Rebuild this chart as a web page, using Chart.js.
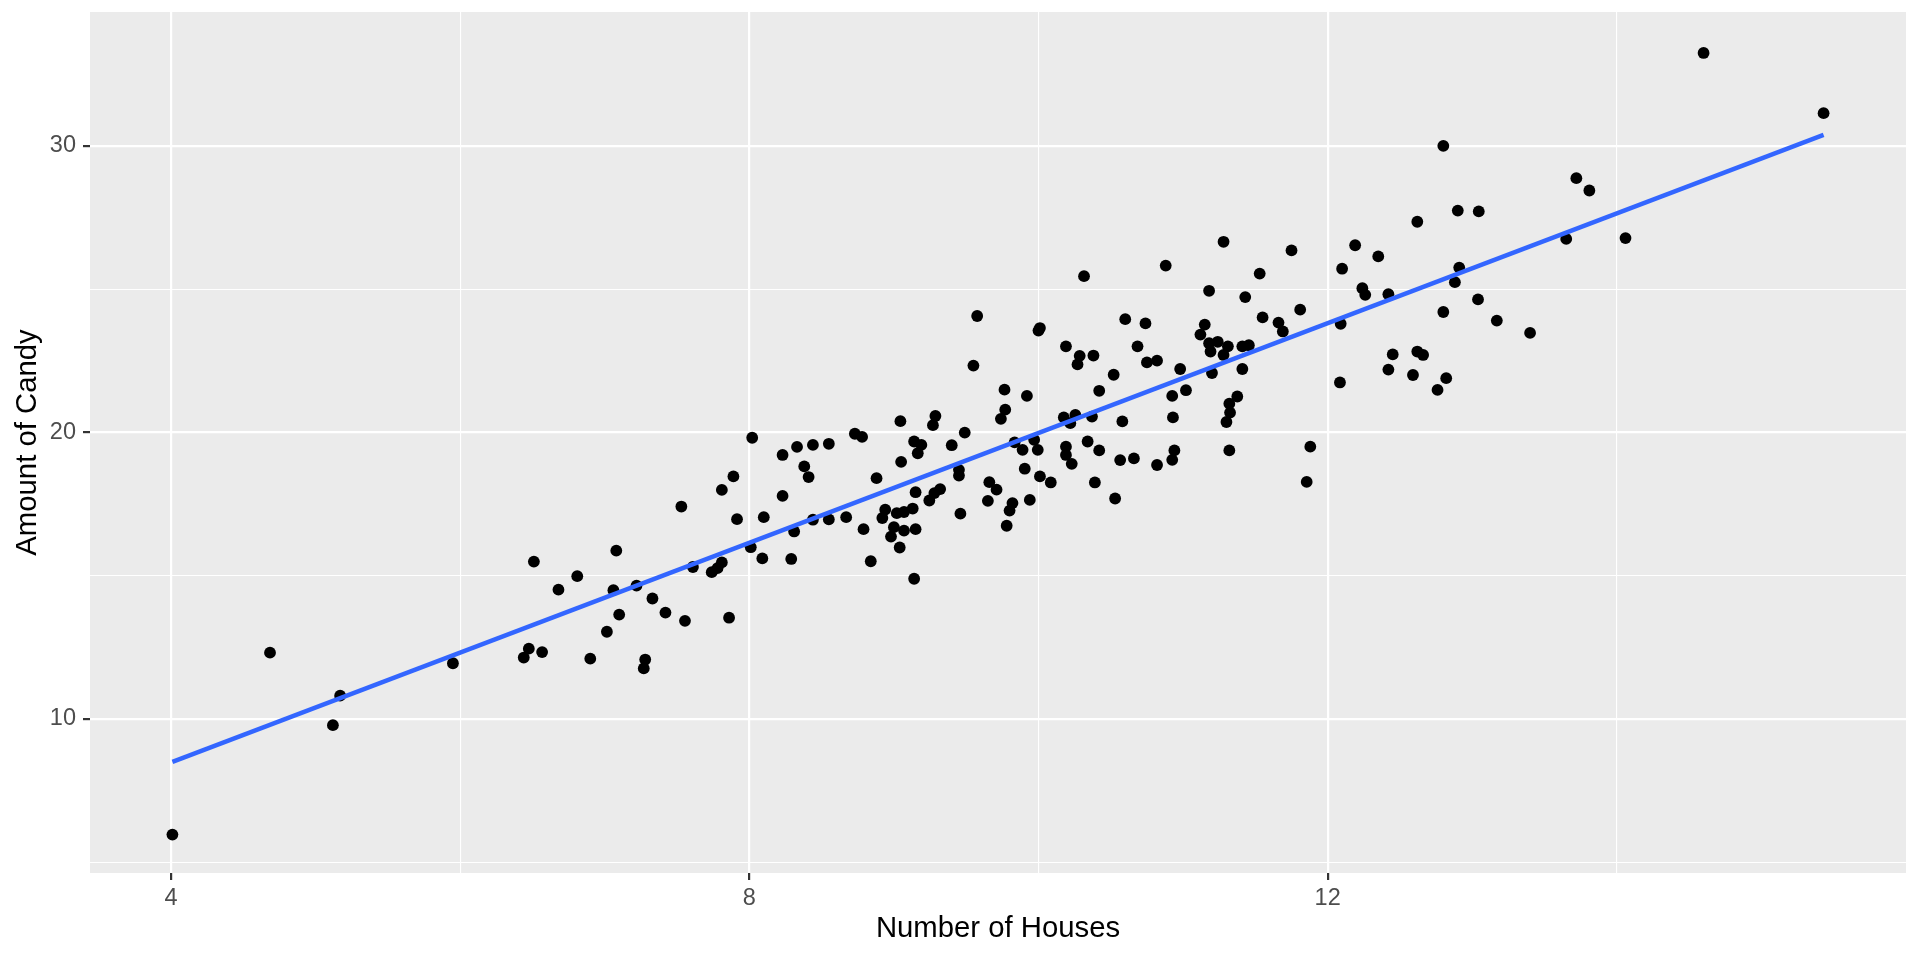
<!DOCTYPE html>
<html>
<head>
<meta charset="utf-8">
<style>
  html, body { margin: 0; padding: 0; background: #ffffff; }
  #wrap { width: 1920px; height: 960px; }
</style>
<script src="https://cdn.jsdelivr.net/npm/chart.js@4.4.1/dist/chart.umd.min.js"></script>
</head>
<body>
<div id="wrap"><canvas id="chart" width="1920" height="960"></canvas></div>
<script>
// Number of Houses (x) / Amount of Candy (y)
const houses = [
  4.01, 4.685, 5.12, 5.17, 5.95, 6.44, 6.475, 6.51, 6.567, 6.68,
  6.81, 6.90, 7.015, 7.06, 7.08, 7.10, 7.22, 7.27, 7.28, 7.33,
  7.42, 7.53, 7.555, 7.61, 7.74, 7.78, 7.81, 7.81, 7.86, 7.89,
  7.915, 8.01, 8.02, 8.09, 8.10, 8.23, 8.23, 8.29, 8.31, 8.33,
  8.38, 8.41, 8.44, 8.44, 8.55, 8.55, 8.67, 8.73, 8.78, 8.79,
  8.84, 8.88, 8.92, 8.94, 8.98, 9.00, 9.02, 9.04, 9.045, 9.05,
  9.07, 9.07, 9.13, 9.14, 9.14, 9.15, 9.15, 9.165, 9.19, 9.245,
  9.27, 9.28, 9.287, 9.32, 9.40, 9.45, 9.45, 9.46, 9.49, 9.55,
  9.576, 9.65, 9.66, 9.71, 9.74, 9.765, 9.77, 9.78, 9.80, 9.82,
  9.835, 9.89, 9.905, 9.92, 9.94, 9.97, 9.995, 10.00, 10.01, 10.01,
  10.085, 10.175, 10.19, 10.19, 10.19, 10.22, 10.23, 10.255, 10.27, 10.285,
  10.315, 10.34, 10.37, 10.38, 10.39, 10.42, 10.42, 10.52, 10.53, 10.565,
  10.58, 10.60, 10.66, 10.685, 10.74, 10.75, 10.82, 10.82, 10.88, 10.925,
  10.925, 10.93, 10.94, 10.98, 11.02, 11.12, 11.15, 11.18, 11.18, 11.19,
  11.20, 11.24, 11.28, 11.28, 11.30, 11.31, 11.32, 11.32, 11.325, 11.375,
  11.41, 11.41, 11.43, 11.455, 11.53, 11.55, 11.66, 11.69, 11.75, 11.81,
  11.855, 11.88, 12.085, 12.09, 12.10, 12.19, 12.24, 12.26, 12.35, 12.42,
  12.42, 12.45, 12.59, 12.62, 12.62, 12.66, 12.76, 12.80, 12.80, 12.82,
  12.88, 12.90, 12.91, 13.04, 13.045, 13.17, 13.40, 13.65, 13.72, 13.81,
  14.06, 14.60, 15.43
];
const candy = [
  5.96, 12.31, 9.78, 10.81, 11.94, 12.14, 12.45, 15.49, 12.33, 14.51,
  14.98, 12.10, 13.04, 14.49, 15.87, 13.64, 14.65, 11.76, 12.07, 14.20,
  13.71, 17.41, 13.42, 15.30, 15.12, 15.26, 15.46, 17.99, 13.53, 18.46,
  16.97, 15.99, 19.81, 15.60, 17.04, 17.78, 19.21, 15.58, 16.54, 19.49,
  18.81, 18.44, 16.95, 19.56, 16.96, 19.60, 17.04, 19.95, 19.84, 16.62,
  15.50, 18.40, 17.01, 17.30, 16.36, 16.69, 17.18, 15.98, 20.39, 18.97,
  16.57, 17.22, 17.34, 14.89, 19.68, 16.62, 17.91, 19.27, 19.56, 17.62,
  20.25, 17.88, 20.57, 18.02, 19.55, 18.49, 18.69, 17.16, 19.99, 22.33,
  24.06, 17.61, 18.26, 18.00, 20.47, 21.49, 20.79, 16.74, 17.27, 17.53,
  19.65, 19.39, 18.73, 21.27, 17.64, 19.74, 19.39, 23.55, 18.46, 23.64,
  18.25, 20.52, 19.21, 19.50, 23.00, 20.32, 18.90, 20.61, 22.37, 22.67,
  25.45, 19.68, 20.55, 22.68, 18.25, 19.37, 21.45, 22.01, 17.69, 19.03,
  20.38, 23.95, 19.09, 23.00, 23.80, 22.44, 18.86, 22.50, 25.82, 19.04,
  21.27, 20.52, 19.37, 22.21, 21.47, 23.41, 23.76, 23.11, 24.94, 22.82,
  22.07, 23.16, 22.70, 26.65, 20.36, 23.00, 19.37, 21.00, 20.69, 21.25,
  22.21, 23.00, 24.72, 23.04, 25.54, 24.01, 23.83, 23.52, 26.35, 24.28,
  18.27, 19.50, 21.74, 23.79, 25.71, 26.53, 25.03, 24.80, 26.14, 22.19,
  24.82, 22.72, 22.00, 22.82, 27.35, 22.70, 21.48, 24.20, 30.00, 21.89,
  25.24, 27.74, 25.75, 24.64, 27.71, 23.90, 23.47, 26.75, 28.87, 28.44,
  26.78, 33.24, 31.14
];

// Fitted line ends, as drawn
const fitHouses = [4.01, 15.43];
const fitCandy = [8.50, 30.38];

// Breaks
const xMajor = [4, 8, 12];
const xMinor = [6, 10, 14];
const yMajor = [10, 20, 30];
const yMinor = [5, 15, 25];

const FONT = "'Liberation Sans', Arial, Helvetica, sans-serif";

const allTicks = (major, minor) =>
  [...major, ...minor].sort((a, b) => a - b).map(v => ({ value: v }));

// grey panel behind the grid
const panelBg = {
  id: 'panelBg',
  beforeDraw(chart) {
    const { ctx, chartArea: a } = chart;
    ctx.save();
    ctx.fillStyle = '#EBEBEB';
    ctx.fillRect(a.left, a.top, a.right - a.left, a.bottom - a.top);
    ctx.restore();
  },
};

function gridFor(major) {
  return {
    color: '#FFFFFF',
    lineWidth: c => (major.includes(c.tick.value) ? 2.2 : 1.1),
    drawTicks: true,
    tickLength: 7,
    tickWidth: 2.2,
    tickColor: c => (major.includes(c.tick.value) ? '#333333' : 'rgba(0,0,0,0)'),
  };
}

const ctx = document.getElementById('chart').getContext('2d');
new Chart(ctx, {
  type: 'scatter',
  data: {
    datasets: [
      {
        label: 'fit',
        data: fitHouses.map((x, i) => ({ x, y: fitCandy[i] })),
        showLine: true,
        borderColor: '#3366FF',
        borderWidth: 4.4,
        pointRadius: 0,
        fill: false,
        order: 0,
      },
      {
        label: 'points',
        data: houses.map((x, i) => ({ x, y: candy[i] })),
        backgroundColor: '#000000',
        borderWidth: 0,
        pointRadius: 5.9,
        order: 1,
      },
    ],
  },
  options: {
    responsive: false,
    animation: false,
    devicePixelRatio: 1,
    layout: { padding: { top: 12, right: 14, left: 0, bottom: 0 } },
    plugins: { legend: { display: false }, tooltip: { enabled: false } },
    scales: {
      x: {
        type: 'linear',
        min: 3.44,
        max: 16.0,
        afterBuildTicks: s => { s.ticks = allTicks(xMajor, xMinor); },
        afterFit: s => {
          s.height = 87;
          s.paddingLeft = s.paddingRight = s.paddingTop = s.paddingBottom = 0;
        },
        border: { display: false },
        grid: gridFor(xMajor),
        ticks: {
          autoSkip: false,
          maxRotation: 0,
          padding: 4,
          color: '#4D4D4D',
          font: { family: FONT, size: 23.5 },
          callback: v => (xMajor.includes(v) ? String(v) : ''),
        },
        title: {
          display: true,
          text: 'Number of Houses',
          color: '#000000',
          font: { family: FONT, size: 29.3 },
          padding: { top: 0, bottom: 14 },
        },
      },
      y: {
        type: 'linear',
        min: 4.62,
        max: 34.67,
        afterBuildTicks: s => { s.ticks = allTicks(yMajor, yMinor); },
        afterFit: s => {
          s.width = 90;
          s.paddingLeft = s.paddingRight = s.paddingTop = s.paddingBottom = 0;
        },
        border: { display: false },
        grid: gridFor(yMajor),
        ticks: {
          autoSkip: false,
          padding: 7,
          color: '#4D4D4D',
          font: { family: FONT, size: 23.5 },
          callback: v => (yMajor.includes(v) ? String(v) : ''),
        },
        title: {
          display: true,
          text: 'Amount of Candy',
          color: '#000000',
          font: { family: FONT, size: 29.3 },
          padding: { top: 10, bottom: 0 },
        },
      },
    },
  },
  plugins: [panelBg],
});
</script>
</body>
</html>
